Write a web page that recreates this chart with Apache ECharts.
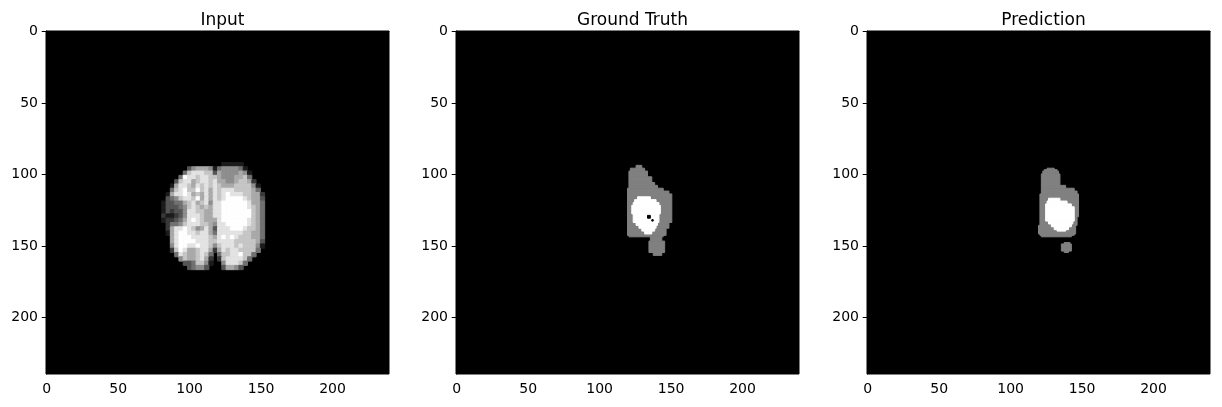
<!DOCTYPE html>
<html>
<head>
<meta charset="utf-8">
<script src="https://cdn.jsdelivr.net/npm/echarts@6/dist/echarts.min.js"></script>
<style>
  html, body { margin: 0; padding: 0; background: #fff; }
  #chart { width: 1222px; height: 407px; }
</style>
</head>
<body>
<div id="chart"></div>
<script>
// panel titles and tick labels
var titles = ['Input', 'Ground Truth', 'Prediction'];
var tickValues = [0, 50, 100, 150, 200];
var imageSize = 240;

// input slice, sampled in 3x3 pixel blocks (0 = black .. 9 = white)
// first block column starts at x = 81, first block row at y = 92
var inputBlockX0 = 81;
var inputBlockY0 = 92;
var inputBlock = 3;
var inputRows = [
  '0000000000000011111000000',
  '0000003566651455554100000',
  '0000047888773655556510000',
  '0000498878877655566740000',
  '0003788678878665567762000',
  '0016887687878766677775100',
  '0047897797868788877776400',
  '0168898676868789888776620',
  '0345788796868789999876630',
  '1334467867858899999986640',
  '1333457876768899999987640',
  '1323358877668899999997640',
  '2112358887668899999997640',
  '1223468987666899999987640',
  '0244578887765889999987640',
  '0268898756863888999877640',
  '0168998878864888888776640',
  '0068999888876898987776640',
  '0068999988877888877777630',
  '0058998898875788878777510',
  '0027986678862687887777400',
  '0004876678740477889774000',
  '0000576678620278888740000',
  '0000033477510058887400000',
  '0000003455300036653000000',
  '0000000000000000000000000'
];

// masks as runs: [rowFrom, rowTo, colFrom, colTo] (inclusive pixel indices)
var gtEdema = [
  [94, 95, 126, 129], [96, 97, 122, 131], [98, 101, 121, 133], [102, 105, 121, 136],
  [106, 107, 121, 138], [108, 109, 121, 140], [110, 111, 120, 144], [112, 113, 120, 148],
  [114, 133, 120, 150], [134, 137, 120, 148], [138, 142, 120, 146], [143, 143, 121, 144],
  [144, 146, 136, 143], [147, 154, 135, 145], [155, 156, 138, 143]
];
var gtCore = [
  [116, 117, 127, 135], [118, 119, 125, 139], [120, 121, 124, 141], [122, 127, 123, 142],
  [128, 133, 124, 141], [134, 135, 126, 140], [136, 137, 128, 139], [138, 139, 130, 138],
  [140, 141, 132, 136]
];
var gtHoles = [[129, 130, 134, 135], [132, 132, 137, 137]];

var predEdema = [
  [96, 96, 126, 130], [97, 97, 124, 132], [98, 99, 123, 133], [100, 107, 122, 134],
  [108, 109, 122, 138], [110, 111, 122, 144], [112, 113, 122, 146], [114, 129, 121, 147],
  [130, 135, 121, 146], [136, 141, 120, 145], [142, 142, 121, 144], [143, 143, 122, 142],
  [148, 148, 138, 141], [149, 153, 136, 142], [154, 154, 138, 140]
];
var predCore = [
  [117, 118, 127, 134], [119, 120, 126, 139], [121, 122, 125, 142], [123, 130, 125, 144],
  [131, 132, 125, 144], [133, 134, 127, 143], [135, 136, 129, 142], [137, 138, 131, 140],
  [139, 139, 133, 138]
];

function grey(level, maxLevel) {
  var c = Math.round(level / maxLevel * 255);
  return 'rgb(' + c + ',' + c + ',' + c + ')';
}

// cells: [x, y, w, h, level]
function inputCells() {
  var out = [];
  inputRows.forEach(function (row, j) {
    for (var i = 0; i < row.length; i++) {
      var lv = parseInt(row[i], 10);
      if (lv > 0) {
        out.push([inputBlockX0 + i * inputBlock, inputBlockY0 + j * inputBlock, inputBlock, inputBlock, lv]);
      }
    }
  });
  return out;
}

function runCells(runs, level) {
  return runs.map(function (r) {
    return [r[2], r[0], r[3] - r[2] + 1, r[1] - r[0] + 1, level];
  });
}

function cellRenderer(maxLevel) {
  return function (params, api) {
    var x = api.value(0), y = api.value(1), w = api.value(2), h = api.value(3);
    var p0 = api.coord([x - 0.5, y - 0.5]);
    var p1 = api.coord([x + w - 0.5, y + h - 0.5]);
    var col = grey(api.value(4), maxLevel);
    return {
      type: 'rect',
      shape: {
        x: Math.min(p0[0], p1[0]),
        y: Math.min(p0[1], p1[1]),
        width: Math.abs(p1[0] - p0[0]),
        height: Math.abs(p1[1] - p0[1])
      },
      style: { fill: col, stroke: col, lineWidth: 1 }
    };
  };
}

var panels = [
  { layers: [{ data: inputCells(), max: 9 }] },
  { layers: [{ data: runCells(gtEdema, 1), max: 2 }, { data: runCells(gtCore, 2), max: 2 }, { data: runCells(gtHoles, 0), max: 2 }] },
  { layers: [{ data: runCells(predEdema, 1), max: 2 }, { data: runCells(predCore, 2), max: 2 }] }
];

var lefts = [46, 456, 867];
var gridSize = 343;
var font = 'DejaVu Sans';

var option = {
  animation: false,
  backgroundColor: '#fff',
  title: [],
  grid: [],
  xAxis: [],
  yAxis: [],
  series: []
};

panels.forEach(function (p, k) {
  option.title.push({
    text: titles[k],
    left: lefts[k] + gridSize / 2,
    textAlign: 'center',
    top: 7,
    textStyle: { fontFamily: font, fontSize: 17, fontWeight: 'normal', color: '#000' }
  });
  option.grid.push({
    left: lefts[k], top: 31, width: gridSize, height: gridSize,
    show: true, backgroundColor: '#000', borderColor: '#000', borderWidth: 1
  });
  var axisCommon = {
    gridIndex: k,
    type: 'value',
    min: -0.5,
    max: imageSize - 0.5,
    axisLine: { show: true, lineStyle: { color: '#000', width: 1 } },
    axisTick: { show: true, length: 5, lineStyle: { color: '#000', width: 1 }, customValues: tickValues },
    axisLabel: { margin: 8, fontFamily: font, fontSize: 14, color: '#000', customValues: tickValues },
    splitLine: { show: false }
  };
  option.xAxis.push(Object.assign({ position: 'bottom' }, axisCommon));
  option.yAxis.push(Object.assign({ position: 'left', inverse: true }, axisCommon));
  p.layers.forEach(function (layer) {
    option.series.push({
      type: 'custom',
      xAxisIndex: k,
      yAxisIndex: k,
      silent: true,
      clip: true,
      renderItem: cellRenderer(layer.max),
      data: layer.data
    });
  });
});

var chart = echarts.init(document.getElementById('chart'), null, { renderer: 'canvas' });
chart.setOption(option);
</script>
</body>
</html>
